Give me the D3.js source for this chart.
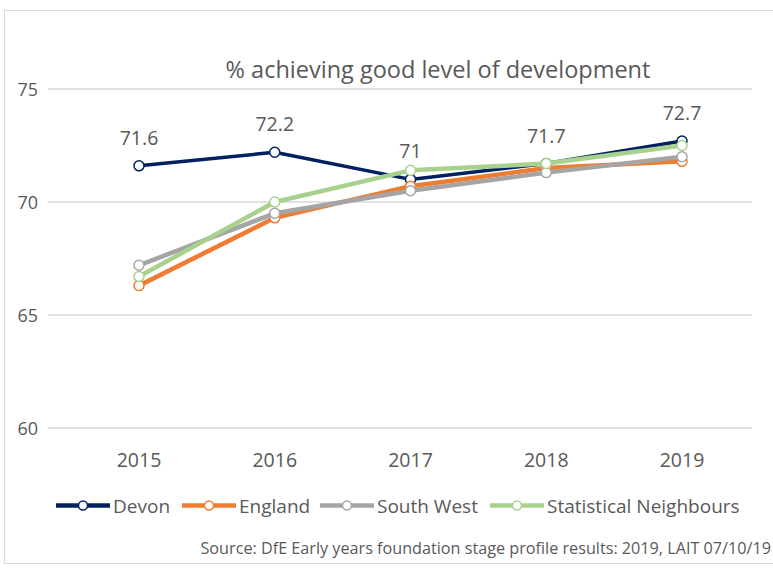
<!DOCTYPE html>
<html>
<head>
<meta charset="utf-8">
<script src="https://cdn.jsdelivr.net/npm/d3@7"></script>
<style>
  body { margin: 0; background: #fff; }
  text { font-family: "Open Sans", sans-serif; fill: #595959; }
</style>
</head>
<body>
<svg id="chart" width="773" height="569"></svg>
<script>
let years = ["2015", "2016", "2017", "2018", "2019"];
let devon = [71.6, 72.2, 71.0, 71.7, 72.7];
let england = [66.3, 69.3, 70.7, 71.5, 71.8];
let southWest = [67.2, 69.5, 70.5, 71.3, 72.0];
let statNeighbours = [66.7, 70.0, 71.4, 71.7, 72.5];
let yTicks = [60, 65, 70, 75];

let seriesNames = ["Devon", "England", "South West", "Statistical Neighbours"];
let seriesValues = [devon, england, southWest, statNeighbours];
let colors = ["#002060", "#ED7D31", "#A5A5A5", "#A9D18E"];

let svg = d3.select("#chart");

// outer frame
svg.append("rect")
    .attr("x", 4.5).attr("y", 10.5)
    .attr("width", 790).attr("height", 553)
    .attr("fill", "none")
    .attr("stroke", "#d9d9d9");

let scaleX = d3.scalePoint().domain(years).range([139, 682]);
let scaleY = d3.scaleLinear().domain([60, 75]).range([428, 89]);

// gridlines
svg.selectAll(".grid").data(yTicks).enter()
    .append("line")
    .attr("x1", 48).attr("x2", 752)
    .attr("y1", d => scaleY(d)).attr("y2", d => scaleY(d))
    .attr("stroke", "#d9d9d9")
    .attr("stroke-width", 1.5);

svg.selectAll(".ytick").data(yTicks).enter()
    .append("text")
    .attr("x", 38).attr("y", d => scaleY(d) + 6.5)
    .attr("text-anchor", "end")
    .style("font-size", "18px")
    .text(d => d);

svg.selectAll(".xtick").data(years).enter()
    .append("text")
    .attr("x", d => scaleX(d)).attr("y", 467)
    .attr("text-anchor", "middle")
    .style("font-size", "19.5px")
    .text(d => d);

svg.append("text")
    .attr("x", 438).attr("y", 78)
    .attr("text-anchor", "middle")
    .style("font-size", "23.5px")
    .text("% achieving good level of development");

let line = d3.line()
    .x((d, i) => scaleX(years[i]))
    .y(d => scaleY(d));

seriesValues.forEach(function(vals, s) {
    svg.append("path")
        .datum(vals)
        .attr("d", line)
        .attr("fill", "none")
        .attr("stroke", colors[s])
        .attr("stroke-width", s == 0 ? 3.5 : 4.5)
        .attr("stroke-linejoin", "round")
        .attr("stroke-linecap", "round");

    svg.selectAll(".m" + s).data(vals).enter()
        .append("circle")
        .attr("cx", (d, i) => scaleX(years[i]))
        .attr("cy", d => scaleY(d))
        .attr("r", 5)
        .attr("fill", "#fff")
        .attr("stroke", colors[s])
        .attr("stroke-width", 1.5);
});

// Devon data labels
svg.selectAll(".dlabel").data(devon).enter()
    .append("text")
    .attr("x", (d, i) => scaleX(years[i]))
    .attr("y", d => scaleY(d) - 21)
    .attr("text-anchor", "middle")
    .style("font-size", "19.5px")
    .text(d => d3.format("")(d));

// legend
let legendX = [56, 182, 320, 490];
seriesNames.forEach(function(name, s) {
    let g = svg.append("g").attr("transform", "translate(" + legendX[s] + ",505.5)");
    g.append("line")
        .attr("x1", 0).attr("x2", 54)
        .attr("stroke", colors[s])
        .attr("stroke-width", 4.5);
    g.append("circle")
        .attr("cx", 27).attr("r", 4.5)
        .attr("fill", "#fff")
        .attr("stroke", colors[s])
        .attr("stroke-width", 1.5);
    g.append("text")
        .attr("x", 57).attr("y", 7)
        .style("font-size", "19px")
        .text(name);
});

svg.append("text")
    .attr("x", 771).attr("y", 554)
    .attr("text-anchor", "end")
    .style("font-size", "16.2px")
    .text("Source: DfE Early years foundation stage profile results: 2019, LAIT 07/10/19");
</script>
</body>
</html>
